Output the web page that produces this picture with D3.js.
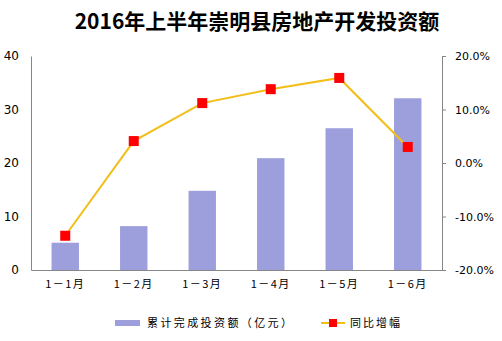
<!DOCTYPE html>
<html>
<head>
<meta charset="utf-8">
<script src="https://cdn.jsdelivr.net/npm/d3@7"></script>
<style>
  html, body { margin: 0; padding: 0; background: #fff; }
  svg { display: block; }
  text { font-family: "Noto Sans CJK SC", "DejaVu Sans", sans-serif; fill: #000; }
</style>
</head>
<body>
<script>
// Monthly cumulative figures, Jan through Jun 2016
const months = ["1－1月", "1－2月", "1－3月", "1－4月", "1－5月", "1－6月"];
const investment = [5.1, 8.2, 14.8, 20.9, 26.5, 32.1];      // 累计完成投资额（亿元）
const growth = [-13.6, 4.1, 11.2, 13.8, 15.9, 3.0];         // 同比增幅 (%)
const leftTicks = [0, 10, 20, 30, 40];
const rightTicks = [-20, -10, 0, 10, 20];

const W = 502, H = 341;
const plotL = 31, plotR = 442, plotT = 56, plotB = 270;

const svg = d3.select("body").append("svg").attr("width", W).attr("height", H);

const x = d3.scaleBand().domain(months).range([plotL, plotR]).paddingInner(0.6).paddingOuter(0.3);
const yL = d3.scaleLinear().domain([0, 40]).range([plotB, plotT]);
const yR = d3.scaleLinear().domain([-20, 20]).range([plotB, plotT]);
const xc = d => x(d) + x.bandwidth() / 2;

// Title
svg.append("text")
  .attr("x", 257).attr("y", 29)
  .attr("text-anchor", "middle")
  .style("font-size", "21px").style("font-weight", "bold")
  .text("2016年上半年崇明县房地产开发投资额");

// Bars
svg.append("g").selectAll("rect").data(investment).join("rect")
  .attr("x", (d, i) => x(months[i]))
  .attr("width", x.bandwidth())
  .attr("y", d => yL(d))
  .attr("height", d => yL(0) - yL(d))
  .attr("fill", "#9c9fdc");

// Left axis
const axL = svg.append("g").attr("transform", `translate(${plotL},0)`)
  .call(d3.axisLeft(yL).tickValues(leftTicks).tickSize(0).tickPadding(12));
axL.select(".domain").attr("stroke", "#868686");
axL.selectAll("text").style("font-size", "12px").style("font-family", "'DejaVu Sans', sans-serif").attr("fill", "#000");

// Right axis
const axR = svg.append("g").attr("transform", `translate(${plotR},0)`)
  .call(d3.axisRight(yR).tickValues(rightTicks).tickSize(4).tickPadding(9)
    .tickFormat(d => d.toFixed(1) + "%"));
axR.select(".domain").attr("stroke", "#868686");
axR.selectAll(".tick line").attr("stroke", "#868686");
axR.selectAll("text").style("font-size", "11px").style("font-family", "'DejaVu Sans', sans-serif").attr("fill", "#000");

// Category axis along the base
const axB = svg.append("g").attr("transform", `translate(0,${plotB})`)
  .call(d3.axisBottom(x).tickSize(0).tickPadding(10));
axB.select(".domain").attr("stroke", "#868686");
axB.selectAll("text").style("font-size", "11px").style("letter-spacing", "1.5px").attr("fill", "#000");

// Growth line with square markers
const line = d3.line().x((d, i) => xc(months[i])).y(d => yR(d));
svg.append("path").datum(growth)
  .attr("d", line).attr("fill", "none")
  .attr("stroke", "#f2be1a").attr("stroke-width", 2);
const ms = 10;
svg.append("g").selectAll("rect").data(growth).join("rect")
  .attr("x", (d, i) => xc(months[i]) - ms / 2)
  .attr("y", d => yR(d) - ms / 2)
  .attr("width", ms).attr("height", ms)
  .attr("fill", "#ff0000");

// Legend
const lg = svg.append("g");
lg.append("rect").attr("x", 115).attr("y", 320).attr("width", 25).attr("height", 6).attr("fill", "#9c9fdc");
lg.append("text").attr("x", 147).attr("y", 327).style("font-size", "11px").style("letter-spacing", "2.4px")
  .text("累计完成投资额（亿元）");
lg.append("line").attr("x1", 321).attr("x2", 345).attr("y1", 323).attr("y2", 323)
  .attr("stroke", "#f2be1a").attr("stroke-width", 2);
lg.append("rect").attr("x", 329).attr("y", 319).attr("width", 8).attr("height", 8).attr("fill", "#ff0000");
lg.append("text").attr("x", 350).attr("y", 327).style("font-size", "11px").style("letter-spacing", "2px")
  .text("同比增幅");
</script>
</body>
</html>
